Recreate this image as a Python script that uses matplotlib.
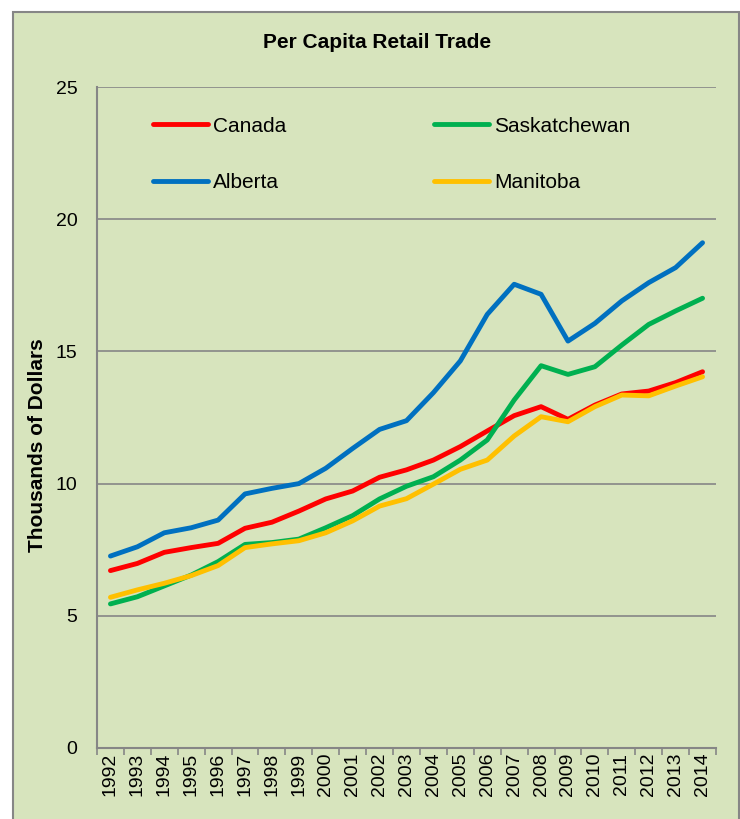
import numpy as np
import matplotlib.pyplot as plt
from matplotlib.patches import Rectangle

plt.rcParams['font.family'] = ['Liberation Sans', 'DejaVu Sans']

years = [str(y) for y in range(1992, 2015)]

canada = [6.71, 6.98, 7.40, 7.58, 7.74, 8.31, 8.54, 8.96, 9.42, 9.72, 10.24, 10.52,
          10.89, 11.40, 11.99, 12.57, 12.91, 12.43, 12.97, 13.39, 13.50, 13.82, 14.23]
saskatchewan = [5.45, 5.72, 6.13, 6.54, 7.05, 7.70, 7.77, 7.90, 8.33, 8.79, 9.42, 9.90,
                10.26, 10.89, 11.65, 13.16, 14.46, 14.13, 14.42, 15.24, 16.02, 16.53, 17.01]
alberta = [7.26, 7.61, 8.14, 8.33, 8.62, 9.61, 9.82, 10.00, 10.58, 11.33, 12.05, 12.38,
           13.44, 14.64, 16.40, 17.54, 17.16, 15.39, 16.06, 16.91, 17.60, 18.17, 19.11]
manitoba = [5.70, 5.98, 6.23, 6.52, 6.90, 7.58, 7.72, 7.84, 8.14, 8.59, 9.15, 9.43,
            9.98, 10.54, 10.89, 11.80, 12.53, 12.34, 12.91, 13.35, 13.32, 13.69, 14.04]

bg = '#D7E4BD'
grid_col = '#868686'

fig = plt.figure(figsize=(7.4, 8.19), dpi=100, facecolor='white')
# chart area background with border (runs off the bottom of the image)
fig.patches.append(Rectangle((12.5 / 740, -0.05), (739 - 12.5) / 740, 1.05 - 11.5 / 819,
                             transform=fig.transFigure, facecolor=bg,
                             edgecolor=grid_col, linewidth=1.5, zorder=-5))

ax = fig.add_axes([97 / 740, 1 - 748 / 819, (716 - 97) / 740, (748 - 87) / 819])
ax.set_facecolor(bg)

x = np.arange(len(years))
lw = 3.5
l_can, = ax.plot(x, canada, color='#FF0000', lw=lw, solid_capstyle='round', label='Canada', zorder=3)
l_sas, = ax.plot(x, saskatchewan, color='#00B050', lw=lw, solid_capstyle='round', label='Saskatchewan', zorder=3)
l_alb, = ax.plot(x, alberta, color='#0070C0', lw=lw, solid_capstyle='round', label='Alberta', zorder=3)
l_man, = ax.plot(x, manitoba, color='#FFC000', lw=lw, solid_capstyle='round', label='Manitoba', zorder=3)

ax.set_ylim(0, 25)
ax.set_yticks([0, 5, 10, 15, 20, 25])
ax.set_xlim(-0.5, len(years) - 0.5)
ax.set_xticks(x)
ax.set_xticklabels(years, rotation=90)
ax.set_xticks(np.arange(-0.5, len(years)), minor=True)
ax.tick_params(axis='x', which='major', length=0, pad=3.5, labelsize=14)
ax.tick_params(axis='x', which='minor', length=5, color=grid_col, width=1.2)
ax.tick_params(axis='y', length=0, pad=14, labelsize=14)

ax.grid(axis='y', color=grid_col, lw=1.2)
ax.set_axisbelow(True)
for s in ['top', 'right']:
    ax.spines[s].set_visible(False)
for s in ['left', 'bottom']:
    ax.spines[s].set_color(grid_col)
    ax.spines[s].set_linewidth(1.5)

fig.text(38 / 740, 1 - 445 / 819, 'Thousands of Dollars', rotation=90, ha='center', va='center',
         fontsize=15, fontweight='bold')
fig.text(377 / 740, 1 - 43 / 819, 'Per Capita Retail Trade', ha='center', va='center',
         fontsize=15, fontweight='bold')

ax.legend(handles=[l_can, l_alb, l_sas, l_man], ncol=2, frameon=False, loc='upper left',
          bbox_to_anchor=(0.074, 0.971), borderpad=0, fontsize=15,
          handlelength=2.64, handletextpad=0.25, columnspacing=7.06, labelspacing=1.8)

plt.savefig('out.png', dpi=100, facecolor='white')
